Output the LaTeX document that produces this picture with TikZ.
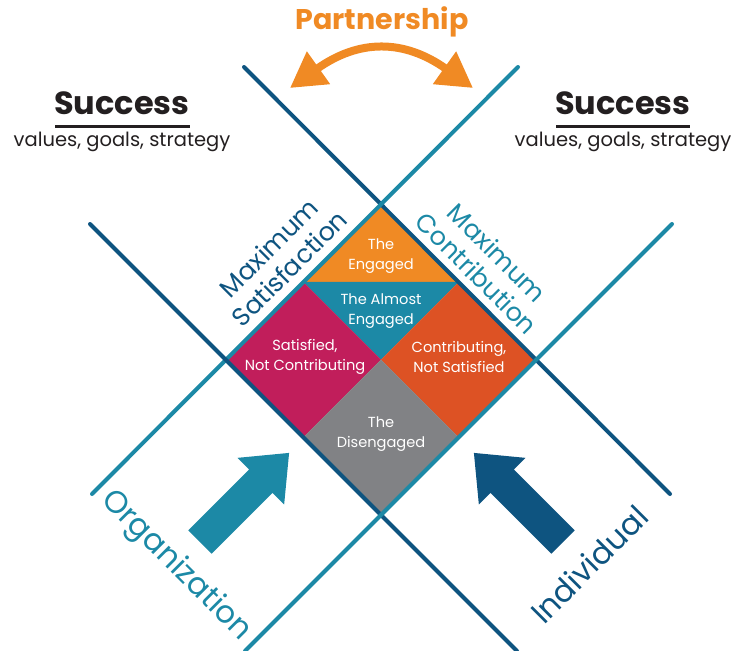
\documentclass[tikz,border=0pt]{standalone}
\usepackage{fontspec}
\setmainfont{Poppins}
\usetikzlibrary{arrows.meta,calc}

\definecolor{engorange}{HTML}{F08A24}
\definecolor{almostteal}{HTML}{1C89A6}
\definecolor{satmagenta}{HTML}{C11E5B}
\definecolor{conorange}{HTML}{DD5224}
\definecolor{disgray}{HTML}{818285}
\definecolor{deepblue}{HTML}{0E5480}
\definecolor{inkdark}{HTML}{231F20}

\tikzset{
  bar/.style={line width=4pt, line cap=round},
  cell/.style={text=white, align=center, font=\fontsize{14.6}{19.5}\selectfont},
  heading/.style={text=inkdark, font=\fontsize{32}{36}\selectfont\bfseries},
  subhead/.style={text=inkdark, font=\fontsize{19.5}{22}\selectfont},
  side/.style={align=center, font=\fontsize{25.5}{29}\selectfont},
  actor/.style={font=\fontsize{31}{34}\selectfont},
}

\begin{document}
\begin{tikzpicture}[x=1pt,y=-1pt]
    \useasboundingbox (0,0) rectangle (737,651);

    \coordinate (top) at (381,204);
    \coordinate (left) at (225.5,359.5);
    \coordinate (right) at (536.5,359.5);
    \coordinate (bottom) at (381,515);
    \coordinate (mid) at (381,359.5);
    \coordinate (ul) at ($(top)!0.5!(left)$);
    \coordinate (ur) at ($(top)!0.5!(right)$);
    \coordinate (ll) at ($(bottom)!0.5!(left)$);
    \coordinate (lr) at ($(bottom)!0.5!(right)$);

    \fill[engorange] (top) -- (ul) -- (ur) -- cycle;
    \fill[almostteal] (ul) -- (ur) -- (mid) -- cycle;
    \fill[satmagenta] (ul) -- (left) -- (ll) -- (mid) -- cycle;
    \fill[conorange] (ur) -- (right) -- (lr) -- (mid) -- cycle;
    \fill[disgray] (mid) -- (ll) -- (bottom) -- (lr) -- cycle;

    \draw[bar, deepblue] (244,67) -- (670,494);
    \draw[bar, almostteal] (518,67) -- (92,494);
    \draw[bar, deepblue] (90,224) -- (517,651);
    \draw[bar, almostteal] (672,224) -- (245,651);

    \node[cell] (engaged) at (381,256) {The\\Engaged};
    \node[cell] (almost) at (381,311) {The Almost\\Engaged};
    \node[cell] (satisfied) at (305,357) {Satisfied,\\Not Contributing};
    \node[cell] (contributing) at (459,357) {Contributing,\\Not Satisfied};
    \node[cell] (disengaged) at (381,434) {The\\Disengaged};

    \node[side, text=deepblue, rotate=45] (maxsat) at (279,258) {Maximum\\Satisfaction};
    \node[side, text=almostteal, rotate=-45] (maxcon) at (487,263) {Maximum\\Contribution};

    \node[actor, text=almostteal, rotate=-45] (org) at (176,566) {Organization};
    \node[actor, text=deepblue, rotate=45] (indiv) at (589,564) {Individual};

    \begin{scope}[shift={(200,542)}, rotate=45]
        \fill[almostteal] (0,-16.5) -- (86,-16.5) -- (86,-33) -- (126,0) -- (86,33) -- (86,16.5) -- (0,16.5) -- cycle;
    \end{scope}
    \begin{scope}[shift={(563,542)}, rotate=135]
        \fill[deepblue] (0,-16.5) -- (86,-16.5) -- (86,-33) -- (126,0) -- (86,33) -- (86,16.5) -- (0,16.5) -- cycle;
    \end{scope}

    \node[heading] (successL) at (122,103) {Success};
    \draw[inkdark, line width=3pt] (55,126) -- (190,126);
    \node[subhead] (goalsL) at (122,142) {values, goals, strategy};

    \node[heading] (successR) at (623,103) {Success};
    \draw[inkdark, line width=3pt] (556,126) -- (690,126);
    \node[subhead] (goalsR) at (623,142) {values, goals, strategy};

    \node[font=\fontsize{28.5}{32}\selectfont\bfseries, text=engorange] (partner) at (382,22) {Partnership};
    \coordinate (pl) at (290,88);
    \coordinate (pr) at (473,88);
    \draw[engorange, line width=8pt, {Triangle[length=35pt,width=38pt]}-{Triangle[length=35pt,width=38pt]}]
        (pl) .. controls (359,39) and (404,39) .. (pr);
\end{tikzpicture}
\end{document}
